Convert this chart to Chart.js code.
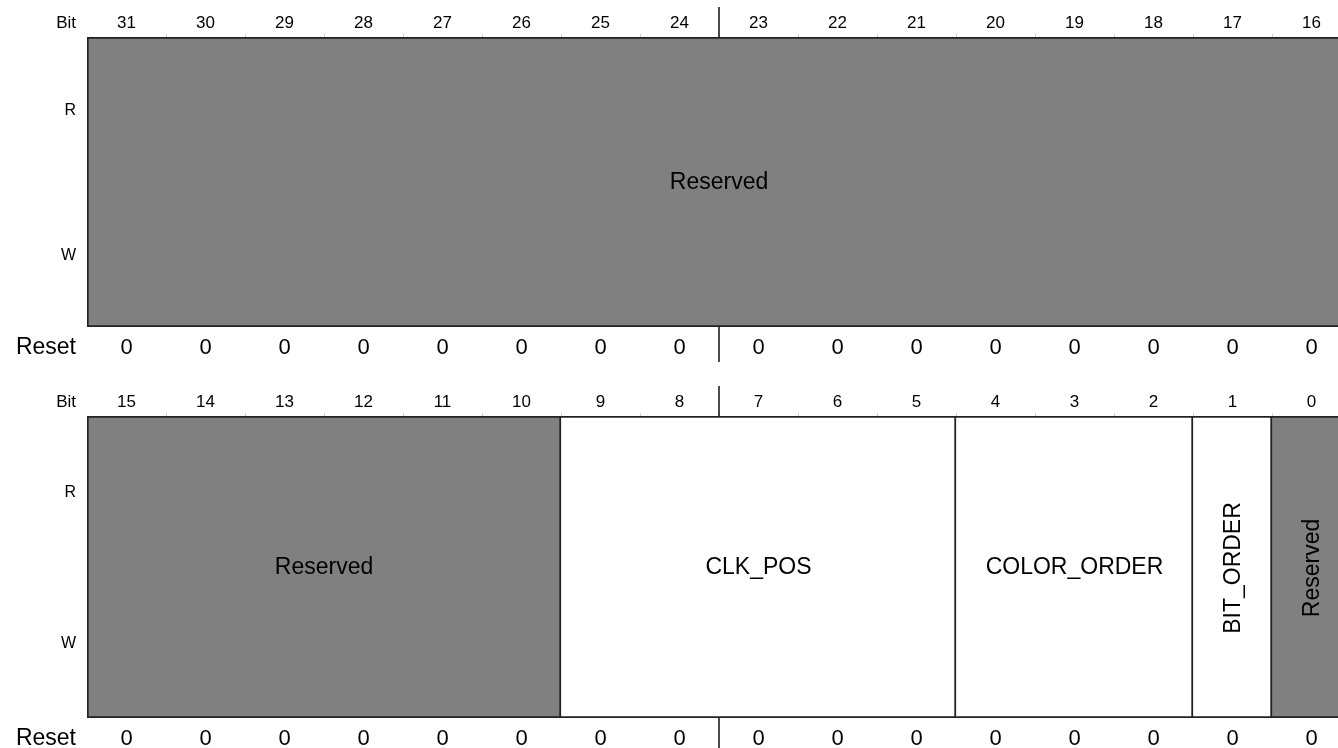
<!DOCTYPE html>
<html>
<head>
<meta charset="utf-8">
<script src="https://cdn.jsdelivr.net/npm/chart.js@4.4.1/dist/chart.umd.min.js"></script>
<style>
html, body { margin: 0; padding: 0; background: #fff; overflow: hidden; }
#wrap { position: relative; width: 1360px; height: 748px; }
canvas { position: absolute; left: 0; }
</style>
</head>
<body>
<div id="wrap">
  <canvas id="regHigh" width="1360" height="374" style="top:0"></canvas>
  <canvas id="regLow" width="1360" height="374" style="top:374px"></canvas>
</div>
<script>
// bit numbers of each row, msb first
const highBits = [31, 30, 29, 28, 27, 26, 25, 24, 23, 22, 21, 20, 19, 18, 17, 16];
const lowBits = [15, 14, 13, 12, 11, 10, 9, 8, 7, 6, 5, 4, 3, 2, 1, 0];

// reset values
const highReset = [0, 0, 0, 0, 0, 0, 0, 0, 0, 0, 0, 0, 0, 0, 0, 0];
const lowReset = [0, 0, 0, 0, 0, 0, 0, 0, 0, 0, 0, 0, 0, 0, 0, 0];

// fields
const highFieldNames = ['Reserved'];
const highFieldMsb = [31];
const highFieldLsb = [16];
const highFieldReserved = [true];

const lowFieldNames = ['Reserved', 'CLK_POS', 'COLOR_ORDER', 'BIT_ORDER', 'Reserved'];
const lowFieldMsb = [15, 9, 4, 1, 0];
const lowFieldLsb = [10, 5, 2, 1, 0];
const lowFieldReserved = [true, false, false, false, true];

const FONT = '"Liberation Sans", Arial, Helvetica, sans-serif';

// draws bit numbers, reset values, R/W and field names
const regText = {
  id: 'regText',
  afterDatasetsDraw(chart, args, opts) {
    const { ctx, chartArea: a, scales: { x } } = chart;
    const first = opts.bits[0];
    ctx.save();
    ctx.fillStyle = '#000';
    ctx.textBaseline = 'middle';

    // left side labels
    ctx.textAlign = 'right';
    ctx.font = '17px ' + FONT;
    ctx.fillText('Bit', 76, a.top - 14);
    ctx.font = '16px ' + FONT;
    ctx.fillText('R', 76, a.top + (a.bottom - a.top) * 0.25 + 1);
    ctx.fillText('W', 76, a.top + (a.bottom - a.top) * 0.75 + 1);
    ctx.font = '23px ' + FONT;
    ctx.fillText('Reset', 76, a.bottom + 21);

    // bit numbers and reset values
    ctx.textAlign = 'center';
    opts.bits.forEach((b, i) => {
      const cx = x.getPixelForValue(i + 0.5);
      ctx.font = '17px ' + FONT;
      ctx.fillText(String(b), cx, a.top - 14);
      ctx.font = '22px ' + FONT;
      ctx.fillText(String(opts.reset[i]), cx, a.bottom + 21);
    });

    // faint ticks on the top border
    ctx.strokeStyle = '#d0d0d0';
    ctx.lineWidth = 1;
    for (let i = 1; i < opts.bits.length; i++) {
      const px = Math.round(x.getPixelForValue(i)) + 0.5;
      ctx.beginPath();
      ctx.moveTo(px, a.top - 3);
      ctx.lineTo(px, a.top);
      ctx.stroke();
    }

    // byte divider
    const mid = x.getPixelForValue(8);
    ctx.strokeStyle = '#000';
    ctx.lineWidth = 1.4;
    ctx.beginPath();
    ctx.moveTo(mid, a.top - 30);
    ctx.lineTo(mid, a.top);
    ctx.moveTo(mid, a.bottom);
    ctx.lineTo(mid, a.bottom + 35);
    ctx.stroke();

    // field names
    ctx.font = '23px ' + FONT;
    const cy = (a.top + a.bottom) / 2 + 1;
    opts.names.forEach((n, i) => {
      const s = first - opts.msb[i];
      const e = first - opts.lsb[i] + 1;
      const cx = x.getPixelForValue((s + e) / 2);
      if (e - s <= 1) {
        ctx.save();
        ctx.translate(cx + 1, cy);
        ctx.rotate(-Math.PI / 2);
        ctx.fillText(n, 0, 0);
        ctx.restore();
      } else {
        ctx.fillText(n, cx, cy);
      }
    });
    ctx.restore();
  }
};

function makeRegister(id, padTop, padBottom, bits, reset, names, msb, lsb, reserved) {
  const first = bits[0];
  const datasets = names.map((n, i) => ({
    label: n,
    data: [[first - msb[i], first - lsb[i] + 1]],
    backgroundColor: reserved[i] ? '#808080' : '#ffffff',
    borderColor: '#222',
    borderWidth: 2,
    borderSkipped: first - msb[i] === 0 ? false : 'left',
    grouped: false,
    categoryPercentage: 1,
    barPercentage: 1
  }));

  return new Chart(document.getElementById(id), {
    type: 'bar',
    data: { labels: ['reg'], datasets },
    options: {
      indexAxis: 'y',
      responsive: false,
      animation: false,
      layout: { padding: { left: 87, right: 9, top: padTop, bottom: padBottom } },
      scales: {
        x: { type: 'linear', min: 0, max: 16, display: false },
        y: { display: false }
      },
      plugins: {
        legend: { display: false },
        tooltip: { enabled: false },
        regText: { bits, reset, names, msb, lsb }
      }
    },
    plugins: [regText]
  });
}

makeRegister('regHigh', 37, 47, highBits, highReset, highFieldNames, highFieldMsb, highFieldLsb, highFieldReserved);
makeRegister('regLow', 42, 30, lowBits, lowReset, lowFieldNames, lowFieldMsb, lowFieldLsb, lowFieldReserved);
</script>
</body>
</html>
